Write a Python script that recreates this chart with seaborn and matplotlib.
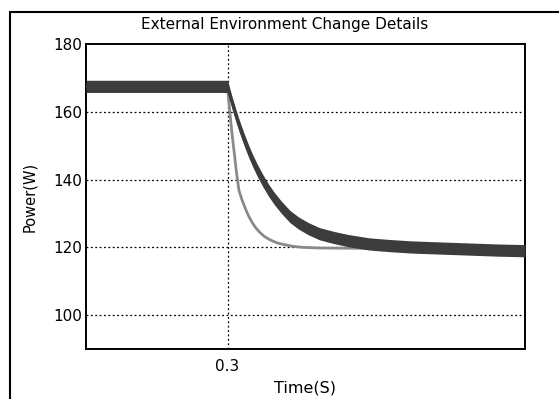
import matplotlib
matplotlib.use("Agg")
import matplotlib.pyplot as plt
import numpy as np
import pandas as pd
import seaborn as sns
from matplotlib.lines import Line2D

# slow response (dark band, ripple makes it thick)
t_slow = [0.200, 0.300, 0.301, 0.302, 0.303, 0.304, 0.306, 0.308, 0.310, 0.312,
          0.315, 0.318, 0.321, 0.325, 0.329, 0.333, 0.338, 0.344, 0.350, 0.357,
          0.365, 0.375, 0.385, 0.400, 0.415, 0.430, 0.450, 0.470, 0.490, 0.510]
p_slow = [167.5, 167.5, 165.9, 164.4, 162.9, 161.5, 158.7, 156.1, 153.7, 151.4,
          148.2, 145.3, 142.7, 139.6, 136.8, 134.4, 131.8, 129.1, 127.2, 125.5,
          124.0, 122.9, 122.0, 121.0, 120.5, 120.1, 119.8, 119.5, 119.2, 119.0]

# fast response (light grey)
t_fast = [0.300, 0.301, 0.302, 0.303, 0.304, 0.305, 0.306, 0.307, 0.308, 0.310,
          0.312, 0.314, 0.316, 0.318, 0.320, 0.323, 0.326, 0.330, 0.335, 0.340,
          0.346, 0.353, 0.365, 0.400, 0.450]
p_fast = [167.0, 162.5, 158.0, 154.0, 150.3, 146.8, 143.0, 139.8, 136.8, 134.2,
          132.0, 130.0, 128.3, 126.9, 125.7, 124.3, 123.2, 122.2, 121.3, 120.8,
          120.3, 120.0, 119.8, 119.7, 119.6]

y_ticks = [100, 120, 140, 160, 180]
x_ticks = [0.3]
ripple = 1.8  # half height of the dark band (W)

df_slow = pd.DataFrame({"Time": t_slow, "Power": p_slow})
df_fast = pd.DataFrame({"Time": t_fast, "Power": p_fast})

sns.set_style("white")
plt.rcParams["font.family"] = ["DejaVu Sans"]
plt.rcParams["text.color"] = "black"
plt.rcParams["axes.labelcolor"] = "black"
plt.rcParams["xtick.color"] = "black"
plt.rcParams["ytick.color"] = "black"

fig = plt.figure(figsize=(5.59, 3.99), dpi=100)
ax = fig.add_axes([86 / 559, 1 - 349 / 399, 439 / 559, 305 / 399])

sns.lineplot(data=df_fast, x="Time", y="Power", ax=ax, color="#8a8a8a", lw=2.0,
             estimator=None, sort=False, zorder=2)
ps = np.array(p_slow)
ax.fill_between(t_slow, ps - ripple, ps + ripple, color="#3c3c3c", lw=0, zorder=3)
sns.lineplot(data=df_slow, x="Time", y="Power", ax=ax, color="#3c3c3c", lw=2.0,
             estimator=None, sort=False, zorder=3)

ax.set_xlim(0.2, 0.51)
ax.set_ylim(90, 180)
ax.set_xticks(x_ticks)
ax.set_xticklabels(["0.3"])
ax.set_yticks(y_ticks)
ax.tick_params(direction="in", length=4, width=1, labelsize=11, color="black",
               labelcolor="black")
ax.tick_params(axis="y", pad=3)
ax.tick_params(axis="x", pad=7)
for v in [100, 120, 140, 160]:
    ax.axhline(v, color="black", ls=(0, (1.5, 2)), lw=0.9, zorder=1)
ax.axvline(0.3, color="black", ls=(0, (1.5, 2)), lw=0.9, zorder=1)
for s in ax.spines.values():
    s.set_color("black")
    s.set_linewidth(1.4)

ax.set_xlabel("Time(S)", fontsize=11.5, labelpad=5, color="black")
ax.set_ylabel("Power(W)", fontsize=10.5, labelpad=11, color="black")
fig.text(284.5 / 559, 1 - 24 / 399, "External Environment Change Details",
         ha="center", va="center", fontsize=11, color="black")

# outer frame
fig.add_artist(Line2D([10 / 559, 10 / 559], [0, 1 - 12 / 399], color="black", lw=1.5))
fig.add_artist(Line2D([10 / 559, 1], [1 - 12 / 399, 1 - 12 / 399], color="black", lw=1.5))

fig.savefig("out.png", dpi=100)
